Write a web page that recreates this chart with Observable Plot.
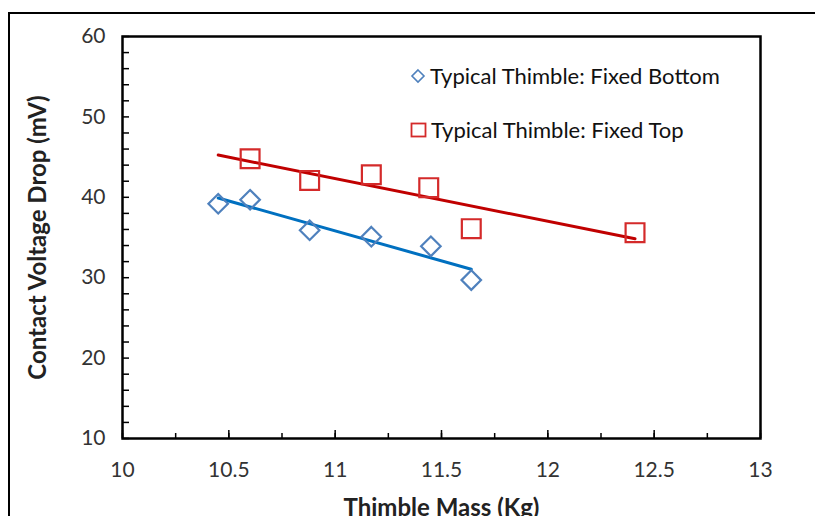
<!DOCTYPE html>
<html><head>
<meta charset="utf-8">
<script src="https://cdn.jsdelivr.net/npm/d3@7"></script>
<script src="https://cdn.jsdelivr.net/npm/@observablehq/plot@0.6"></script>
<style>
body{margin:0;background:#fff;}
#wrap{position:relative;width:815px;height:516px;overflow:hidden;font-family:Lato,"Open Sans",sans-serif;}
#frame{position:absolute;left:8px;top:12px;right:-10px;bottom:-10px;border-left:2.5px solid #000;border-top:2.5px solid #000;pointer-events:none;}
#chart{position:absolute;left:0;top:0;}
.leg{position:absolute;left:410px;font-size:22px;color:#111;display:flex;align-items:center;white-space:nowrap;}
.leg svg{margin-right:4px;}
</style></head><body>
<div id="wrap"><div id="chart"></div><div id="frame"></div><div id="legend"></div></div>
<script>
// Data
const bottomMass = [10.45, 10.60, 10.88, 11.17, 11.45, 11.64];
const bottomDrop = [39.2, 39.7, 35.9, 35.1, 33.9, 29.7];
const topMass = [10.60, 10.88, 11.17, 11.44, 11.64, 12.41];
const topDrop = [44.8, 42.1, 42.8, 41.2, 36.1, 35.6];
const xTicks = [10, 10.5, 11, 11.5, 12, 12.5, 13];
const yTicks = [10, 20, 30, 40, 50, 60];
const seriesNames = ["Typical Thimble: Fixed Bottom", "Typical Thimble: Fixed Top"];
const colors = {bottomMarker: "#4f81bd", bottomLine: "#0070c0", topMarker: "#d42a2a", topLine: "#c00000"};

const bottom = bottomMass.map((m, i) => ({mass: m, drop: bottomDrop[i]}));
const top_ = topMass.map((m, i) => ({mass: m, drop: topDrop[i]}));

function fit(data) {
  const mx = d3.mean(data, d => d.mass), my = d3.mean(data, d => d.drop);
  const sxy = d3.sum(data, d => (d.mass - mx) * (d.drop - my));
  const sxx = d3.sum(data, d => (d.mass - mx) ** 2);
  const b = sxy / sxx;
  return x => my + b * (x - mx);
}
const trendStart = d3.min([...bottomMass, ...topMass]);
const fb = fit(bottom), ft = fit(top_);
const bottomTrend = [trendStart, d3.max(bottomMass)].map(x => ({mass: x, drop: fb(x)}));
const topTrend = [trendStart, d3.max(topMass)].map(x => ({mass: x, drop: ft(x)}));

const xMinor = d3.range(10, 13.001, 0.25);
const yMinor = d3.range(10, 60.001, 2);
const fmt = d => String(d);

const plot = Plot.plot({
  width: 815, height: 516,
  marginLeft: 122, marginRight: 55, marginTop: 36, marginBottom: 78,
  style: {fontFamily: "Lato, 'Open Sans', sans-serif", fontSize: "21px", color: "#222", background: "transparent"},
  x: {domain: [10, 13]},
  y: {domain: [10, 60]},
  marks: [
    Plot.axisX(xMinor, {tickSize: -5, text: null, label: null, strokeWidth: 1.5, stroke: "#000"}),
    Plot.axisX(xTicks, {tickSize: -8, text: null, label: null, strokeWidth: 1.5, stroke: "#000"}),
    Plot.axisX(xTicks, {tickSize: 0, tickPadding: 24, fontSize: 21, fill: "#333", tickFormat: fmt, label: "Thimble Mass (Kg)", labelAnchor: "center", labelOffset: 77, labelArrow: "none"}),
    Plot.axisY(yMinor, {tickSize: -7, text: null, label: null, strokeWidth: 1.5, stroke: "#000"}),
    Plot.axisY(yTicks, {tickSize: 0, tickPadding: 17, fontSize: 21, fill: "#333", tickFormat: fmt, label: "Contact Voltage Drop (mV)", labelAnchor: "center", labelOffset: 94, labelArrow: "none"}),
    Plot.frame({stroke: "#000", strokeWidth: 2.5}),
    Plot.line(bottomTrend, {x: "mass", y: "drop", stroke: colors.bottomLine, strokeWidth: 3}),
    Plot.line(topTrend, {x: "mass", y: "drop", stroke: colors.topLine, strokeWidth: 3}),
    Plot.dot(bottom, {x: "mass", y: "drop", symbol: "diamond2", r: 8.8, stroke: colors.bottomMarker, strokeWidth: 2.2}),
    Plot.dot(top_, {x: "mass", y: "drop", symbol: "square2", r: 12, stroke: colors.topMarker, strokeWidth: 2.2})
  ]
});
document.getElementById("chart").append(plot);
plot.querySelectorAll("g[aria-label='x-axis label'] text, g[aria-label='y-axis label'] text").forEach(t => {
  t.setAttribute("font-weight", "bold"); t.setAttribute("fill", "#222"); t.setAttribute("font-size", "24px");
});

const legend = document.getElementById("legend");
legend.innerHTML = `
<div class="leg" style="top:62px"><svg width="16" height="16"><path d="M8,2 L14,8 L8,14 L2,8 Z" fill="none" stroke="${colors.bottomMarker}" stroke-width="1.6"/></svg><span>${seriesNames[0]}</span></div>
<div class="leg" style="top:116px"><svg width="17" height="16"><rect x="1.5" y="1.5" width="14" height="13" fill="none" stroke="${colors.topMarker}" stroke-width="1.8"/></svg><span>${seriesNames[1]}</span></div>`;
</script>
</body></html>
